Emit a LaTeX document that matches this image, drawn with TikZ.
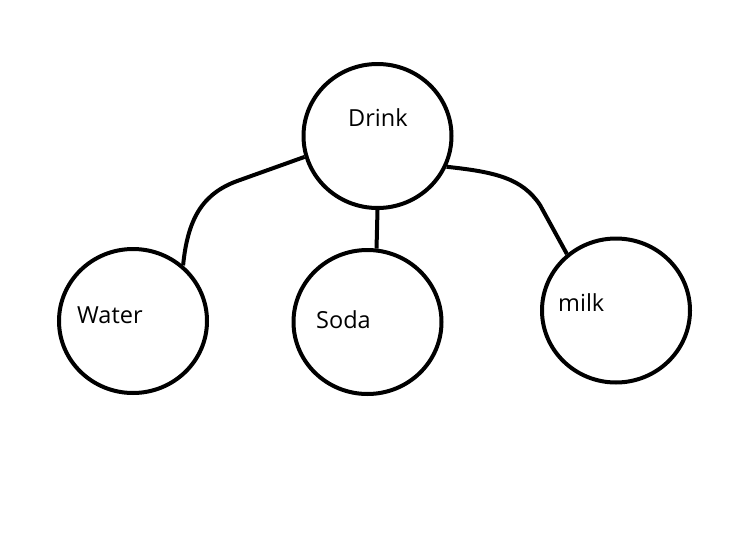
\documentclass[tikz,border=0pt]{standalone}
\usepackage{fontspec}
\setmainfont{Open Sans}
\usetikzlibrary{shapes.geometric}
\begin{document}
\begin{tikzpicture}[x=1pt,y=-1pt,
  bubble/.style={ellipse,draw=black,line width=4pt,minimum width=148pt,minimum height=144pt,inner sep=0pt},
  link/.style={draw=black,line width=4pt},
  word/.style={anchor=base west,inner sep=0pt,font=\fontsize{23.5}{28}\selectfont}]
\useasboundingbox (0,0) rectangle (753,533);
\fill[white] (0,0) rectangle (753,533);
\node[bubble] (drink) at (377.5,136) {};
\node[bubble] (water) at (133,321) {};
\node[bubble] (soda) at (367.5,322) {};
\node[bubble] (milk) at (616,310.5) {};
\node[word] (tdrink) at (348,126) {Drink};
\node[word] (twater) at (77,323) {Water};
\node[word] (tsoda) at (316,328) {Soda};
\node[word] (tmilk) at (558,311) {milk};
\draw[link] (water.48) .. controls (188,215) and (205,192) .. (240,180) -- (drink.196);
\draw[link] (drink.270) -- (soda.83);
\draw[link] (drink.336) .. controls (495,172) and (522,178) .. (540,205) -- (milk.131);
\end{tikzpicture}
\end{document}
